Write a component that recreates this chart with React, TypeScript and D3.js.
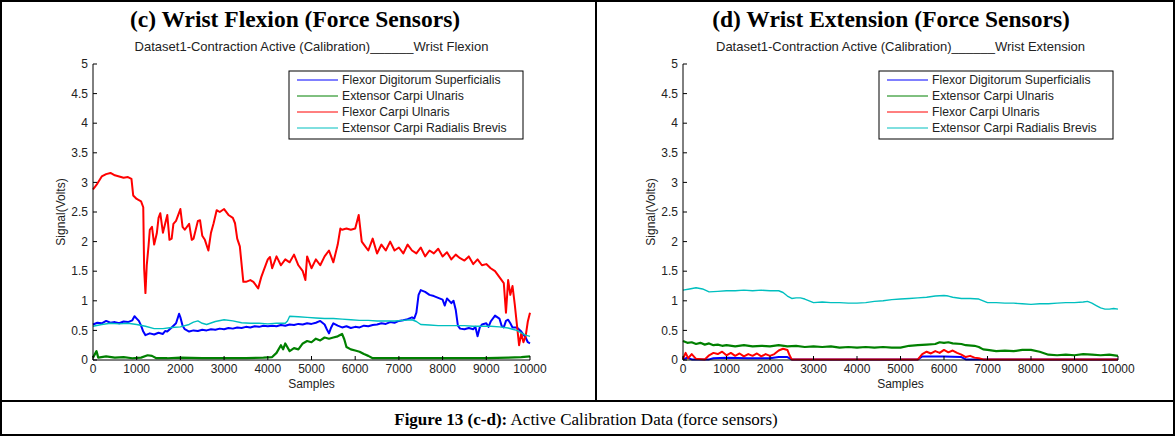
import React from "react";
import * as d3 from "d3";

// ---------- DATA ----------
const seriesNames = [
  "Flexor Digitorum Superficialis",
  "Extensor Carpi Ulnaris",
  "Flexor Carpi Ulnaris",
  "Extensor Carpi Radialis Brevis",
];
const seriesColors = ["#0000ff", "#008000", "#ff0000", "#00bfbf"];
const yTicks = [0, 0.5, 1, 1.5, 2, 2.5, 3, 3.5, 4, 4.5, 5];
const xTicks = [0, 1000, 2000, 3000, 4000, 5000, 6000, 7000, 8000, 9000, 10000];

type P = [number, number];

// (c) Wrist Flexion
const flexFDS: P[] = [[0,0.60],[100,0.63],[200,0.62],[300,0.66],[400,0.63],[500,0.64],[600,0.62],[700,0.65],[800,0.64],[900,0.67],[950,0.74],[1000,0.70],[1050,0.66],[1100,0.58],[1150,0.48],[1200,0.42],[1300,0.45],[1400,0.43],[1500,0.46],[1600,0.44],[1650,0.49],[1700,0.48],[1800,0.55],[1900,0.62],[1970,0.78],[2000,0.72],[2050,0.58],[2100,0.52],[2200,0.48],[2300,0.50],[2400,0.49],[2500,0.51],[2600,0.50],[2700,0.52],[2800,0.51],[2900,0.53],[3000,0.52],[3100,0.54],[3200,0.53],[3300,0.55],[3400,0.54],[3500,0.56],[3600,0.55],[3700,0.57],[3800,0.56],[3900,0.58],[4000,0.57],[4100,0.58],[4200,0.57],[4300,0.59],[4400,0.58],[4500,0.60],[4600,0.59],[4700,0.61],[4800,0.60],[4900,0.62],[5000,0.61],[5100,0.63],[5200,0.66],[5300,0.60],[5350,0.52],[5400,0.45],[5450,0.55],[5500,0.62],[5600,0.58],[5700,0.55],[5800,0.57],[5900,0.54],[6000,0.56],[6100,0.55],[6200,0.58],[6300,0.57],[6400,0.59],[6500,0.60],[6600,0.62],[6700,0.61],[6800,0.64],[6900,0.63],[7000,0.66],[7100,0.67],[7200,0.69],[7300,0.72],[7350,0.70],[7400,0.80],[7450,1.10],[7500,1.18],[7600,1.15],[7700,1.10],[7800,1.08],[7900,1.05],[8000,1.02],[8050,0.92],[8100,1.04],[8200,0.96],[8250,1.00],[8300,0.85],[8350,0.58],[8400,0.53],[8500,0.52],[8600,0.54],[8700,0.52],[8750,0.56],[8800,0.40],[8850,0.55],[8900,0.60],[9000,0.62],[9050,0.56],[9100,0.65],[9200,0.75],[9300,0.70],[9350,0.58],[9400,0.55],[9450,0.66],[9500,0.68],[9550,0.62],[9600,0.55],[9700,0.55],[9800,0.48],[9900,0.38],[9950,0.30],[10000,0.28]];
const flexECU: P[] = [[0,0.04],[80,0.15],[120,0.04],[300,0.06],[500,0.04],[700,0.05],[900,0.03],[1100,0.04],[1250,0.08],[1350,0.07],[1450,0.03],[1700,0.03],[2000,0.04],[2500,0.03],[3000,0.03],[3500,0.03],[3900,0.04],[4100,0.05],[4200,0.12],[4300,0.25],[4350,0.18],[4400,0.28],[4500,0.15],[4600,0.20],[4700,0.18],[4800,0.28],[4900,0.32],[5000,0.30],[5100,0.36],[5200,0.33],[5300,0.38],[5400,0.36],[5500,0.38],[5600,0.40],[5700,0.44],[5750,0.35],[5800,0.22],[5900,0.18],[6000,0.16],[6100,0.14],[6200,0.10],[6300,0.07],[6400,0.03],[7000,0.03],[8000,0.03],[9000,0.03],[9500,0.04],[9800,0.05],[10000,0.06]];
const flexFCU: P[] = [[0,2.88],[100,2.98],[200,3.10],[300,3.14],[400,3.16],[500,3.12],[600,3.10],[700,3.08],[800,3.09],[880,3.06],[920,2.78],[1000,2.72],[1100,2.68],[1150,2.58],[1170,1.55],[1200,1.13],[1230,1.60],[1270,1.92],[1300,2.20],[1350,2.25],[1400,1.95],[1460,2.14],[1500,2.40],[1540,2.48],[1600,2.15],[1700,2.45],[1750,2.03],[1800,2.05],[1840,2.30],[1900,2.35],[2000,2.55],[2050,2.25],[2100,2.20],[2200,2.30],[2260,2.03],[2300,2.05],[2400,2.35],[2450,2.36],[2500,2.10],[2560,2.03],[2640,1.85],[2700,2.15],[2760,2.31],[2830,2.53],[2900,2.50],[3000,2.55],[3100,2.45],[3200,2.40],[3250,2.31],[3300,2.05],[3360,1.92],[3440,1.32],[3500,1.32],[3600,1.35],[3670,1.32],[3780,1.21],[3850,1.40],[3900,1.50],[4000,1.70],[4050,1.74],[4100,1.55],[4200,1.75],[4300,1.60],[4400,1.70],[4500,1.65],[4600,1.78],[4700,1.60],[4800,1.50],[4860,1.35],[4900,1.75],[5000,1.55],[5100,1.70],[5200,1.60],[5300,1.75],[5400,1.85],[5500,1.65],[5600,1.95],[5660,2.22],[5700,2.20],[5800,2.22],[5900,2.20],[6000,2.22],[6080,2.45],[6150,2.00],[6200,1.95],[6300,1.85],[6400,2.05],[6500,1.80],[6600,1.95],[6700,1.85],[6800,2.00],[6900,1.85],[7000,1.90],[7100,1.80],[7200,1.95],[7300,1.85],[7400,1.80],[7500,1.90],[7600,1.75],[7700,1.85],[7800,1.80],[7900,1.88],[8000,1.75],[8100,1.82],[8200,1.70],[8300,1.78],[8400,1.72],[8500,1.68],[8600,1.75],[8700,1.62],[8800,1.70],[8900,1.60],[9000,1.62],[9100,1.55],[9200,1.50],[9300,1.40],[9400,1.30],[9450,0.80],[9500,1.35],[9550,1.10],[9600,1.25],[9650,0.95],[9700,0.60],[9750,0.25],[9800,0.45],[9850,0.30],[9900,0.40],[9950,0.65],[10000,0.80]];
const flexECRB: P[] = [[0,0.57],[200,0.60],[400,0.62],[600,0.61],[800,0.62],[1000,0.60],[1200,0.57],[1400,0.53],[1600,0.53],[1800,0.55],[2000,0.56],[2200,0.60],[2300,0.64],[2400,0.66],[2500,0.62],[2600,0.60],[2800,0.65],[3000,0.68],[3200,0.66],[3400,0.63],[3600,0.62],[3800,0.62],[4000,0.61],[4200,0.62],[4400,0.62],[4450,0.66],[4500,0.74],[4700,0.73],[4900,0.72],[5100,0.71],[5300,0.70],[5500,0.70],[5700,0.69],[5900,0.68],[6100,0.67],[6300,0.67],[6500,0.66],[6700,0.66],[6900,0.66],[7100,0.67],[7300,0.68],[7400,0.65],[7500,0.60],[7700,0.59],[7900,0.58],[8100,0.58],[8300,0.58],[8500,0.58],[8700,0.57],[8900,0.57],[9100,0.57],[9300,0.56],[9500,0.54],[9600,0.52],[9700,0.50],[9800,0.46],[9900,0.42],[10000,0.40]];

// (d) Wrist Extension
const extFDS: P[] = [[0,0.01],[100,0.04],[200,0.01],[600,0.01],[700,0.03],[1000,0.04],[1500,0.03],[2000,0.03],[2200,0.05],[2400,0.05],[2500,0.01],[5400,0.01],[5500,0.06],[6000,0.06],[6400,0.05],[6500,0.01],[10000,0.01]];
const extECU: P[] = [[0,0.32],[100,0.29],[200,0.30],[300,0.27],[400,0.29],[500,0.26],[600,0.28],[700,0.25],[800,0.26],[900,0.24],[1000,0.25],[1200,0.23],[1400,0.25],[1600,0.23],[1800,0.24],[2000,0.23],[2200,0.25],[2400,0.23],[2600,0.24],[2800,0.22],[3000,0.23],[3200,0.22],[3400,0.23],[3600,0.21],[3800,0.22],[4000,0.21],[4200,0.22],[4400,0.21],[4600,0.22],[4800,0.21],[5000,0.21],[5200,0.24],[5400,0.25],[5600,0.26],[5800,0.27],[5900,0.30],[6000,0.29],[6100,0.30],[6200,0.28],[6400,0.27],[6500,0.25],[6700,0.24],[6800,0.22],[6900,0.18],[7000,0.17],[7200,0.15],[7400,0.16],[7600,0.15],[7800,0.17],[8000,0.17],[8200,0.14],[8400,0.09],[8600,0.08],[8800,0.09],[9000,0.08],[9200,0.10],[9400,0.09],[9600,0.08],[9800,0.09],[10000,0.07]];
const extFCU: P[] = [[0,0.02],[60,0.12],[120,0.03],[200,0.10],[300,0.02],[500,0.01],[600,0.08],[700,0.12],[800,0.10],[900,0.14],[1000,0.08],[1100,0.12],[1200,0.07],[1300,0.11],[1400,0.06],[1500,0.10],[1600,0.07],[1700,0.11],[1800,0.06],[1900,0.10],[2000,0.07],[2100,0.10],[2200,0.16],[2300,0.19],[2400,0.17],[2450,0.08],[2500,0.01],[3000,0.01],[4000,0.01],[5000,0.01],[5400,0.01],[5500,0.10],[5600,0.14],[5700,0.11],[5800,0.15],[5900,0.12],[6000,0.17],[6100,0.13],[6200,0.16],[6300,0.12],[6400,0.09],[6500,0.05],[6600,0.07],[6700,0.04],[6800,0.03],[6900,0.01],[10000,0.01]];
const extECRB: P[] = [[0,1.18],[150,1.20],[300,1.22],[450,1.20],[600,1.15],[800,1.16],[1000,1.17],[1200,1.17],[1400,1.18],[1600,1.17],[1800,1.18],[2000,1.17],[2200,1.17],[2300,1.14],[2400,1.08],[2500,1.04],[2600,1.05],[2700,1.05],[2800,1.03],[2900,1.00],[3000,0.97],[3200,0.98],[3400,0.97],[3600,0.97],[3800,0.96],[4000,0.96],[4200,0.97],[4400,0.99],[4600,1.00],[4800,1.02],[5000,1.03],[5200,1.04],[5400,1.05],[5600,1.06],[5800,1.08],[6000,1.09],[6100,1.08],[6200,1.06],[6400,1.04],[6600,1.04],[6800,1.03],[6900,1.00],[7000,0.97],[7200,0.97],[7400,0.96],[7600,0.96],[7800,0.95],[8000,0.94],[8200,0.95],[8400,0.95],[8600,0.96],[8800,0.97],[9000,0.97],[9200,0.98],[9300,0.99],[9400,0.96],[9500,0.92],[9600,0.88],[9700,0.86],[9800,0.86],[9900,0.87],[10000,0.86]];

const W = 1175;
const H = 436;
const SANS = "Arial, 'Liberation Sans', sans-serif";
const SERIF = "'Times New Roman', 'Liberation Serif', serif";
const TXT = "#222";

function Panel(props: {
  x0: number; x1: number; titleX: number; title: string; subtitle: string; data: P[][];
}) {
  const { x0, x1, titleX, title, subtitle, data } = props;
  const yTop = 64, yBot = 360;
  const x = d3.scaleLinear().domain([0, 10000]).range([x0, x1]);
  const y = d3.scaleLinear().domain([0, 5]).range([yBot, yTop]);
  const line = d3.line<P>().x((d) => x(d[0])).y((d) => y(d[1]));
  const cx = (x0 + x1) / 2;
  const lgX = x0 + 196, lgY = 71, lgW = 234, lgH = 68;
  const widths = [2, 2.2, 2, 1.4];
  return (
    <g>
      <text x={titleX} y={27} textAnchor="middle" fontFamily={SERIF} fontWeight="bold" fontSize={23.5} fill="#000">{title}</text>
      <text x={cx} y={51} textAnchor="middle" fontFamily={SANS} fontSize={13} fill={TXT}>{subtitle}</text>
      {data.map((d, i) => (
        <path key={i} d={line(d) || ""} fill="none" stroke={seriesColors[i]} strokeWidth={widths[i]} strokeLinejoin="round" />
      ))}
      <line x1={x0} x2={x0} y1={yTop} y2={yBot} stroke="#000" strokeWidth={1} />
      <line x1={x0} x2={x1} y1={yBot} y2={yBot} stroke="#000" strokeWidth={1} />
      {yTicks.map((t) => (
        <g key={"y" + t}>
          <line x1={x0} x2={x0 + 4} y1={y(t)} y2={y(t)} stroke="#000" />
          <text x={x0 - 5} y={y(t)} dy="0.35em" textAnchor="end" fontFamily={SANS} fontSize={12} fill={TXT}>{t}</text>
        </g>
      ))}
      {xTicks.map((t) => (
        <g key={"x" + t}>
          <line x1={x(t)} x2={x(t)} y1={yBot} y2={yBot - 4} stroke="#000" />
          <text x={x(t)} y={yBot + 13} textAnchor="middle" fontFamily={SANS} fontSize={12} fill={TXT}>{t}</text>
        </g>
      ))}
      <text x={cx} y={388} textAnchor="middle" fontFamily={SANS} fontSize={12} fill={TXT}>Samples</text>
      <text transform={`translate(${x0 - 28},${(yTop + yBot) / 2}) rotate(-90)`} textAnchor="middle" fontFamily={SANS} fontSize={12} fill={TXT}>Signal(Volts)</text>
      <rect x={lgX} y={lgY} width={lgW} height={lgH} fill="#fff" stroke="#000" strokeWidth={1} />
      {seriesNames.map((n, i) => (
        <g key={n}>
          <line x1={lgX + 8} x2={lgX + 49} y1={lgY + 9 + i * 16} y2={lgY + 9 + i * 16} stroke={seriesColors[i]} strokeWidth={1} />
          <text x={lgX + 53} y={lgY + 9 + i * 16} dy="0.35em" fontFamily={SANS} fontSize={12.2} fill={TXT}>{n}</text>
        </g>
      ))}
    </g>
  );
}

export default function App() {
  return (
    <svg width={W} height={H} style={{ position: "absolute", left: 0, top: 0, background: "#fff" }}>
      <rect x={0} y={0} width={W} height={H} fill="#fff" />
      <Panel x0={93} x1={530} titleX={295} title="(c) Wrist Flexion (Force Sensors)"
        subtitle="Dataset1-Contraction Active (Calibration)______Wrist Flexion"
        data={[flexFDS, flexECU, flexFCU, flexECRB]} />
      <Panel x0={683} x1={1118} titleX={891} title="(d) Wrist Extension (Force Sensors)"
        subtitle="Dataset1-Contraction Active (Calibration)______Wrist Extension"
        data={[extFDS, extECU, extFCU, extECRB]} />
      <rect x={1} y={1} width={W - 2} height={H - 2} fill="none" stroke="#000" strokeWidth={2} />
      <line x1={596} x2={596} y1={1} y2={401} stroke="#000" strokeWidth={2} />
      <line x1={1} x2={W - 1} y1={401} y2={401} stroke="#000" strokeWidth={2} />
      <text x={586} y={425} textAnchor="middle" fontFamily={SERIF} fontSize={17} fill="#000">
        <tspan fontWeight="bold">Figure 13 (c-d):</tspan> Active Calibration Data (force sensors)
      </text>
    </svg>
  );
}
